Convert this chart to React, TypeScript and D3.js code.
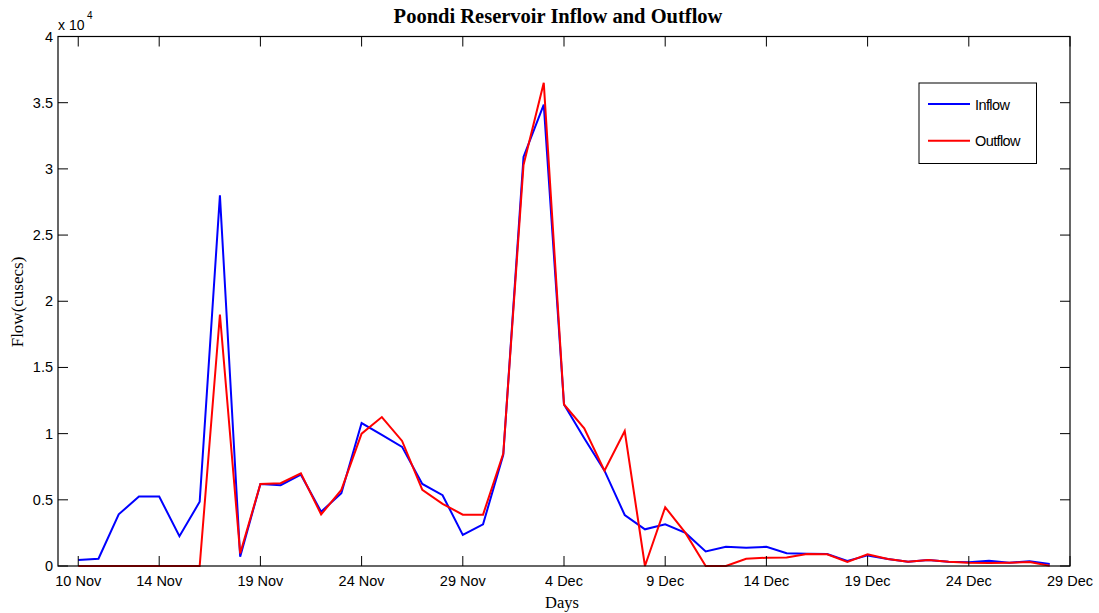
import React from "react";
import * as d3 from "d3";

const startDate = new Date(2015, 10, 10);
const inflow = [450, 550, 3900, 5250, 5250, 2250, 4850, 28000, 700, 6200, 6100, 6900, 4100, 5500, 10800, 9900, 9000, 6200, 5350, 2350, 3150, 8400, 30900, 34850, 12200, 9650, 7200, 3850, 2770, 3150, 2500, 1100, 1450, 1380, 1450, 960, 930, 900, 380, 800, 530, 330, 450, 330, 280, 400, 250, 350, 150];
const outflow = [0, 0, 0, 0, 0, 0, 0, 19000, 950, 6200, 6250, 7000, 3900, 5750, 10000, 11250, 9450, 5750, 4700, 3880, 3880, 8500, 30300, 36500, 12200, 10400, 7200, 10200, 0, 4440, 2500, 0, 0, 550, 630, 650, 900, 880, 300, 880, 530, 330, 450, 330, 250, 230, 250, 300, 20];
const xTickDates = [new Date(2015, 10, 10), new Date(2015, 10, 14), new Date(2015, 10, 19), new Date(2015, 10, 24), new Date(2015, 10, 29), new Date(2015, 11, 4), new Date(2015, 11, 9), new Date(2015, 11, 14), new Date(2015, 11, 19), new Date(2015, 11, 24), new Date(2015, 11, 29)];
const xTickLabels = ["10 Nov", "14 Nov", "19 Nov", "24 Nov", "29 Nov", "4 Dec", "9 Dec", "14 Dec", "19 Dec", "24 Dec", "29 Dec"];
const yTicks = [0, 5000, 10000, 15000, 20000, 25000, 30000, 35000, 40000];
const yTickLabels = ["0", "0.5", "1", "1.5", "2", "2.5", "3", "3.5", "4"];
const seriesNames = ["Inflow", "Outflow"];
const seriesColors = ["#0000ff", "#ff0000"];

export default function App() {
  const W = 1099, H = 613;
  const L = 58, R = 1070, T = 36.5, B = 566;
  const x = d3.scaleTime().domain([new Date(2015, 10, 9), new Date(2015, 11, 29)]).range([L, R]);
  const y = d3.scaleLinear().domain([0, 40000]).range([B, T]);
  const dates = inflow.map((_, i) => d3.timeDay.offset(startDate, i));
  const line = d3.line<number>().x((_, i) => x(dates[i])).y((d) => y(d));
  const tl = 10;
  const sans = "'Liberation Sans', Arial, sans-serif";
  const serif = "'Liberation Serif', 'Times New Roman', serif";
  return (
    <svg width={W} height={H} style={{ position: "absolute", left: 0, top: 0, background: "#fff" }}>
      <rect x={0} y={0} width={W} height={H} fill="#fff" />
      <text x={558} y={23} textAnchor="middle" fontFamily={serif} fontWeight="bold" fontSize={20.5}>Poondi Reservoir Inflow and Outflow</text>
      <path d={line(inflow) || ""} fill="none" stroke={seriesColors[0]} strokeWidth={2} strokeLinejoin="miter" />
      <path d={line(outflow) || ""} fill="none" stroke={seriesColors[1]} strokeWidth={2} strokeLinejoin="miter" />
      <rect x={L} y={T} width={R - L} height={B - T} fill="none" stroke="#000" strokeWidth={1.2} />
      {xTickDates.map((d, i) => (
        <g key={"xt" + i}>
          <line x1={x(d)} x2={x(d)} y1={B} y2={B - tl} stroke="#000" strokeWidth={1} />
          <line x1={x(d)} x2={x(d)} y1={T} y2={T + tl} stroke="#000" strokeWidth={1} />
          <text x={x(d)} y={586} textAnchor="middle" fontFamily={sans} fontSize={14.5}>{xTickLabels[i]}</text>
        </g>
      ))}
      {yTicks.map((v, i) => (
        <g key={"yt" + i}>
          <line x1={L} x2={L + tl} y1={y(v)} y2={y(v)} stroke="#000" strokeWidth={1} />
          <line x1={R} x2={R - tl} y1={y(v)} y2={y(v)} stroke="#000" strokeWidth={1} />
          <text x={53} y={y(v) + 5} textAnchor="end" fontFamily={sans} fontSize={14.5}>{yTickLabels[i]}</text>
        </g>
      ))}
      <text x={58} y={30} fontFamily={sans} fontSize={14}>x 10</text>
      <text x={87} y={19} fontFamily={sans} fontSize={10}>4</text>
      <text x={562} y={608} textAnchor="middle" fontFamily={serif} fontSize={16.5}>Days</text>
      <text transform="translate(23,302) rotate(-90)" textAnchor="middle" fontFamily={serif} fontSize={17}>Flow(cusecs)</text>
      <rect x={919} y={83} width={117.5} height={80.5} fill="#fff" stroke="#000" strokeWidth={1} />
      {seriesNames.map((n, i) => (
        <g key={"lg" + i}>
          <line x1={928} x2={970} y1={104 + i * 36.7} y2={104 + i * 36.7} stroke={seriesColors[i]} strokeWidth={2} />
          <text x={975} y={109.5 + i * 36.7} fontFamily={sans} fontSize={14.5} letterSpacing={-0.6}>{n}</text>
        </g>
      ))}
    </svg>
  );
}
